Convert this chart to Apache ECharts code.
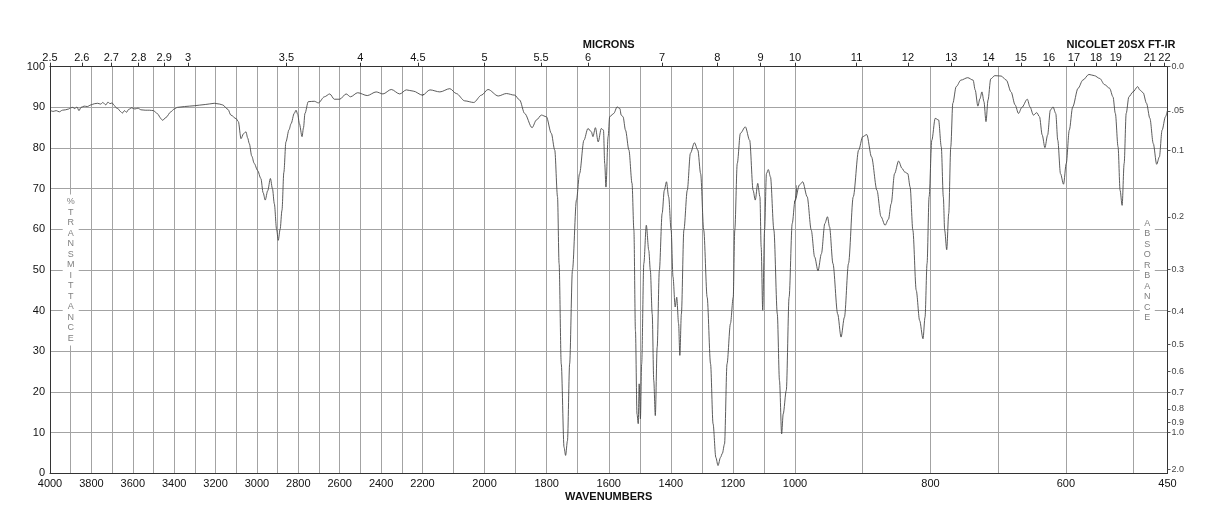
<!DOCTYPE html>
<html><head><meta charset="utf-8">
<script src="https://cdn.jsdelivr.net/npm/echarts@6/dist/echarts.min.js"></script>
<style>html,body{margin:0;padding:0;background:#fff}#chart{width:1218px;height:528px}</style>
</head><body><div id="chart"></div>
<script>
// ---- data (wavenumber in cm-1, % transmittance) ----
const wavenumbers = [
4000,3985,3970,3955,3940,3925,3910,3900,3890,3880,3870,3860,3850,3835,3820,3802,3785,3770,3755,3745,3730,3720,3710,3700,3690,3680,3670,3660,3650,3640,3630,3620,3605,3590,3575,3560,3540,3520,3500,3480,3465,3456,3440,3416,3400,3384,3350,3303,3250,3206,3180,3166,3140,3126,3100,3090,3077,3065,3053,3045,3037,3025,3013,2997,2981,2970,2960,2948,2935,2925,2916,2905,2897,2888,2879,2870,2860,2845,2835,2820,2811,2803,2795,2782,2775,2768,2752,2723,2703,2674,2648,2626,2600,2569,2548,2513,2467,2424,2391,2351,2310,2278,2245,2200,
2176,2144,2112,2091,2064,2035,2010,1989,1956,1930,1903,1887,1871,1847,1833,1817,1801,1785,1774,1765,1760,1753,1744,1739,1733,1726,1717,1704,1694,1680,1667,1656,1651,1643,1634,1624,1617,1613,1609,1602,1597,1584,1573,1564,1560,1554,1546,1535,1525,1519,1514,1509,1505,1502,1498,1494,1487,1479,1471,1466,1460,1455,1450,1444,1437,1428,1421,1414,1407,1399,1393,1386,1381,1375,1371,1366,1358,1347,1337,1324,1313,1304,1294,1283,1272,1264,1255,1248,1240,1234,1227,1219,1208,1199,1194,1186,1176,1160,1146,1135,1128,1120,1113,1109,1104,1098,1092,1086,1079,1068,1057,1050,1043,1038,1028,1019,1009,1000,
993.5,988.6,982,976,971,966,961,956,952,949,944,937,932,927,921,914,906,900,894,887,879,873,867,862,858,853,847,842,838,833.5,830,826,821,816,811,808,805,802,798,793,788,784,781,779,776,773,770,767,762,755,745,737,734,730,727,724,721,718,715,711,705,695.6,688,681,675,670,665,657,653,648,643,639,635,631,627,623,619,615,612,608,603.5,599.5,595,590,582,575,566,558,550,543,535.5,530.5,527,523,520,517,514,511,507,501,494,491,486,481,476,471,466,462,458,453,450
];
const transmittance = [
89.3,89.0,89.2,88.9,89.3,89.4,89.6,89.9,90.0,89.7,90.1,89.2,90.0,90.3,90.2,90.6,90.9,91.0,90.8,91.2,90.6,91.3,90.9,91.1,90.5,89.9,89.6,89.0,88.6,89.2,88.8,89.5,89.9,89.6,89.8,89.4,89.3,89.3,89.2,88.4,87.3,86.8,87.5,88.9,89.6,90.0,90.2,90.4,90.7,91.0,90.8,90.6,89.5,88.1,87.2,86.5,82.3,83.5,84.0,82.5,81.1,78.0,76.2,74.5,72.5,69.0,67.2,69.5,72.5,70.0,66.3,60.0,57.3,60.0,64.7,74.0,81.5,84.5,86.0,88.5,89.3,88.3,86.0,82.8,85.0,88.5,91.4,91.5,91.1,92.6,93.3,92.0,92.0,93.3,92.6,93.6,92.9,93.8,93.3,94.4,93.3,94.3,94.0,93.0,
94.3,93.8,94.6,93.4,91.6,91.2,93.0,94.4,92.8,93.4,93.0,91.8,88.5,85.0,86.9,88.1,87.7,83.6,79.5,68.0,51.6,26.9,6.4,4.4,8.0,26.9,49.9,67.2,73.7,81.9,84.8,84.0,82.8,85.0,81.5,84.8,84.4,76.2,70.4,82.8,87.7,88.5,90.1,89.7,88.1,87.7,84.4,79.5,71.3,59.8,35.1,14.6,12.2,22.0,13.4,26.9,51.6,61.0,54.8,49.9,39.2,22.8,14.2,31.0,49.9,63.9,69.6,71.7,68.0,59.8,48.3,40.9,43.3,36.8,29.0,39.2,59.8,69.6,78.7,81.3,79.5,73.7,59.8,43.3,26.9,12.2,3.9,1.9,3.9,4.9,7.2,26.9,36.8,43.3,59.8,76.2,83.6,85.2,81.9,69.6,67.2,71.3,68.0,55.7,40.1,59.8,73.7,74.7,72.9,59.8,39.2,22.8,9.7,14.6,20.4,43.3,61.4,67.0,
70.9,71.7,68.0,59.8,53.2,49.8,54.0,61.4,63.1,60.6,51.6,39.2,33.5,38.4,51.6,68.0,79.5,82.8,83.3,77.8,69.6,63.1,61.0,62.5,66.3,73.7,76.8,75.0,74.1,73.7,70.4,59.8,45.0,37.6,33.1,38.4,51.6,68.0,81.9,87.3,86.9,80.3,68.0,59.8,55.0,63.9,80.3,91.0,95.1,96.7,97.3,96.7,94.3,90.3,92.1,93.8,91.4,86.5,91.8,97.0,97.8,97.7,96.7,93.8,90.6,88.5,90.0,92.0,90.1,88.1,88.7,87.7,83.2,80.1,83.2,89.3,90.1,88.5,81.9,73.7,71.1,76.2,84.4,90.1,94.7,96.7,98.1,97.8,97.1,95.6,94.7,92.6,88.5,80.3,69.6,65.9,76.2,88.5,92.6,93.8,95.1,94.3,93.6,91.0,87.3,81.1,76.0,77.8,84.4,87.7,89.3
];
// three x-axis segments, each drawn at its own linear scale
const segments = [[2200, 4000], [1000, 2200], [450, 1000]];
const wavenumberLabels = [
  [4000,3800,3600,3400,3200,3000,2800,2600,2400,2200],
  [2000,1800,1600,1400,1200,1000],
  [800,600,450]
];
const gridLineValues = [
  [3900,3800,3700,3600,3500,3400,3300,3200,3100,3000,2900,2800,2700,2600,2500,2400,2300,2200],
  [2100,2000,1900,1800,1700,1600,1500,1400,1300,1200,1100,1000],
  [900,800,700,600,500]
];
const micronLabels = [
  [2.5,2.6,2.7,2.8,2.9,3,3.5,4,4.5],
  [5,5.5,6,7,8,9,10],
  [11,12,13,14,15,16,17,18,19,21,22]
];
const absorbanceValues = [0,0.05,0.1,0.2,0.3,0.4,0.5,0.6,0.7,0.8,0.9,1.0,2.0];
const absorbanceLabels = ['0.0','.05','0.1','0.2','0.3','0.4','0.5','0.6','0.7','0.8','0.9','1.0','2.0'];

// ---- chart ----
const FONT = '"Liberation Sans", Arial, Helvetica, sans-serif';
const frameColor = '#333';
const gridColor = '#a3a3a3';
const gridLeft = [50, 422.5, 795], gridW = 372.5, gridTop = 66.7, gridH = 406.6;

const chart = echarts.init(document.getElementById('chart'), null, {renderer: 'canvas'});

function segmentData(lo, hi) {
  const out = [];
  for (let i = 0; i < wavenumbers.length; i++) {
    const w = wavenumbers[i];
    const inside = w >= lo && w <= hi;
    const prevIn = i > 0 && wavenumbers[i-1] >= lo && wavenumbers[i-1] <= hi;
    const nextIn = i < wavenumbers.length-1 && wavenumbers[i+1] >= lo && wavenumbers[i+1] <= hi;
    if (inside || prevIn || nextIn) out.push([w, transmittance[i]]);
  }
  return out;
}

const absT = absorbanceValues.map(a => 100 * Math.pow(10, -a));

const grids = [], xAxes = [], yAxes = [], series = [];
segments.forEach((seg, i) => {
  grids.push({left: gridLeft[i], top: gridTop, width: gridW, height: gridH, containLabel: false});
  const microWn = micronLabels[i].map(m => 10000 / m);
  xAxes.push({
    gridIndex: i, type: 'value', position: 'bottom', min: seg[0], max: seg[1], inverse: true,
    axisLine: {show: true, onZero: false, lineStyle: {color: frameColor, width: 1}},
    axisTick: {show: false, customValues: gridLineValues[i]},
    splitLine: {show: true, lineStyle: {color: gridColor, width: 1}},
    axisLabel: {customValues: wavenumberLabels[i], fontFamily: FONT, fontSize: 11, color: '#111', margin: 5,
      formatter: v => String(v)}
  });
  xAxes.push({
    gridIndex: i, type: 'value', position: 'top', min: seg[0], max: seg[1], inverse: true,
    axisLine: {show: true, onZero: false, lineStyle: {color: frameColor, width: 1}},
    axisTick: {show: true, inside: false, length: 4, customValues: microWn, lineStyle: {color: frameColor}},
    splitLine: {show: false},
    axisLabel: {customValues: microWn, fontFamily: FONT, fontSize: 11, color: '#111', margin: 3,
      formatter: v => String(Math.round(10000 / v * 10) / 10)}
  });
  yAxes.push({
    gridIndex: i, type: 'value', position: 'left', min: 0, max: 100, interval: 10,
    axisLine: {show: i === 0, onZero: false, lineStyle: {color: frameColor, width: 1}},
    axisTick: {show: false},
    splitLine: {show: true, lineStyle: {color: gridColor, width: 1}},
    axisLabel: {show: i === 0, fontFamily: FONT, fontSize: 11, color: '#111', margin: 5}
  });
});
yAxes.push({
  gridIndex: 2, type: 'value', position: 'right', min: 0, max: 100,
  axisLine: {show: true, onZero: false, lineStyle: {color: frameColor, width: 1}},
  axisTick: {show: true, inside: false, length: 3, customValues: absT, lineStyle: {color: '#555'}},
  splitLine: {show: false},
  axisLabel: {customValues: absT, fontFamily: FONT, fontSize: 9, color: '#444', margin: 4,
    formatter: v => {
      let best = 0, bd = Infinity;
      absT.forEach((t, k) => { const d = Math.abs(t - v); if (d < bd) { bd = d; best = k; } });
      return absorbanceLabels[best];
    }}
});
segments.forEach((seg, i) => {
  series.push({
    type: 'line', xAxisIndex: 2 * i, yAxisIndex: i, data: segmentData(seg[0], seg[1]),
    showSymbol: false, symbol: 'none', clip: true, smooth: 0.3, smoothMonotone: 'x',
    lineStyle: {color: '#4a4a4a', width: 0.9}, z: 5
  });
});

function vText(str, x, y) {
  return {
    type: 'text', x: x, y: y, z: 10,
    style: {
      text: str.split('').join('\n'), font: '9px ' + FONT, fill: '#808080',
      textAlign: 'center', textVerticalAlign: 'middle', lineHeight: 10.5,
      backgroundColor: '#fff', padding: [2, 4, 2, 4]
    }
  };
}

chart.setOption({
  animation: false,
  backgroundColor: '#fff',
  grid: grids, xAxis: xAxes, yAxis: yAxes, series: series,
  graphic: [
    {type: 'text', x: 608.7, y: 45, z: 10, style: {text: 'MICRONS', font: 'bold 11px ' + FONT, fill: '#111', textAlign: 'center', textVerticalAlign: 'middle'}},
    {type: 'text', x: 1121, y: 45, z: 10, style: {text: 'NICOLET 20SX FT-IR', font: 'bold 11px ' + FONT, fill: '#111', textAlign: 'center', textVerticalAlign: 'middle'}},
    {type: 'text', x: 608.7, y: 497, z: 10, style: {text: 'WAVENUMBERS', font: 'bold 11px ' + FONT, fill: '#111', textAlign: 'center', textVerticalAlign: 'middle'}},
    vText('%TRANSMITTANCE', 70.7, 270),
    vText('ABSORBANCE', 1147.3, 270.7)
  ]
});
</script></body></html>
